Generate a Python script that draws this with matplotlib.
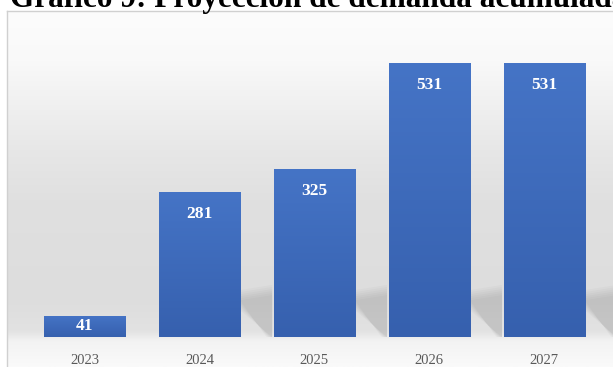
import numpy as np
import matplotlib.pyplot as plt
from matplotlib.colors import LinearSegmentedColormap
from matplotlib.patches import Polygon

# --- Datos ---
years = ["2023", "2024", "2025", "2026", "2027"]
demand = [41, 281, 325, 531, 531]
title = "Gráfico 9: Proyección de demanda acumulada"

W, H = 613, 367
fig = plt.figure(figsize=(W / 100, H / 100), dpi=100)
fig.patch.set_facecolor("white")

# chart area, from pixel 7 (left) and 11 (top) to the edges
ax = fig.add_axes([7 / W, 0, 1 - 7 / W, 1 - 11 / H])
x = np.arange(len(years))

px_unit_x = 114.9
px_unit_y = 274 / 531
xlim = (-(84.5 - 7) / px_unit_x, (W - 84.5) / px_unit_x)
ylim = (-(H - 337) / px_unit_y, (337 - 11) / px_unit_y)

# background gradient (0 = top of chart area, 1 = bottom)
bg = LinearSegmentedColormap.from_list("bg", [
    (0.0, "#fcfcfc"), (0.14, "#f9f9f9"), (0.25, "#f1f1f1"), (0.39, "#e7e7e7"),
    (0.53, "#e0e0e0"), (0.81, "#dddddd"), (0.9, "#e2e2e2"), (0.93, "#f3f3f3"),
    (1.0, "#fafafa")])
grad = np.linspace(0, 1, 256).reshape(-1, 1)
ax.imshow(grad, cmap=bg, aspect="auto", extent=[0, 1, 0, 1],
          transform=ax.transAxes, zorder=0)

width = 0.705
gap = 1 - width
bars = ax.bar(x, demand, width=width, color="#4070c0", zorder=3)

# soft shadows behind the bars (layered for a blurred edge)
for xi, h in zip(x, demand):
    if h < 100:
        continue
    xr = xi + width / 2
    for k in range(6):
        d = k * 4
        shadow = Polygon([(xr, 91 - d), (xr + gap * 0.95, 101 - d),
                          (xr + gap * 0.95, 0), (xr + gap * 0.95 - 0.01 * k, 0),
                          (xr, 52 + d)],
                         closed=True, facecolor="black", alpha=0.02,
                         edgecolor="none", zorder=2)
        ax.add_patch(shadow)

# bar gradient
barcm = LinearSegmentedColormap.from_list("bar", ["#3660ae", "#4574c6"])
for b in bars:
    im = ax.imshow(grad[::-1], cmap=barcm, aspect="auto",
                   extent=[b.get_x(), b.get_x() + b.get_width(), 0, b.get_height()],
                   zorder=4)
    im.set_clip_path(b)

ax.set_xlim(*xlim)
ax.set_ylim(*ylim)

serif = ["Liberation Serif", "DejaVu Serif"]
for xi, h in zip(x, demand):
    if h * px_unit_y < 40:
        ax.text(xi, h / 2, str(h), ha="center", va="center", color="white",
                fontsize=12.5, fontweight="bold", family=serif, zorder=6)
    else:
        ax.annotate(str(h), (xi, h), xytext=(0, -10), textcoords="offset points",
                    ha="center", va="top", color="white", fontsize=12.5,
                    fontweight="bold", family=serif, zorder=6)

for xi, lab in zip(x, years):
    ax.annotate(lab, (xi, 0), xytext=(0, -17), textcoords="offset points",
                ha="center", va="center", color="#595959", fontsize=10.5,
                family=serif)

ax.set_xticks([])
ax.set_yticks([])
for side in ["right", "bottom"]:
    ax.spines[side].set_visible(False)
for side in ["left", "top"]:
    ax.spines[side].set_color("#d0d0d0")
    ax.spines[side].set_linewidth(1.0)

fig.text(10 / W, 1 - 7 / H, title, ha="left", va="baseline", fontsize=22.5,
         fontweight="bold", family=serif, color="black")

fig.savefig("out.png", dpi=100)
